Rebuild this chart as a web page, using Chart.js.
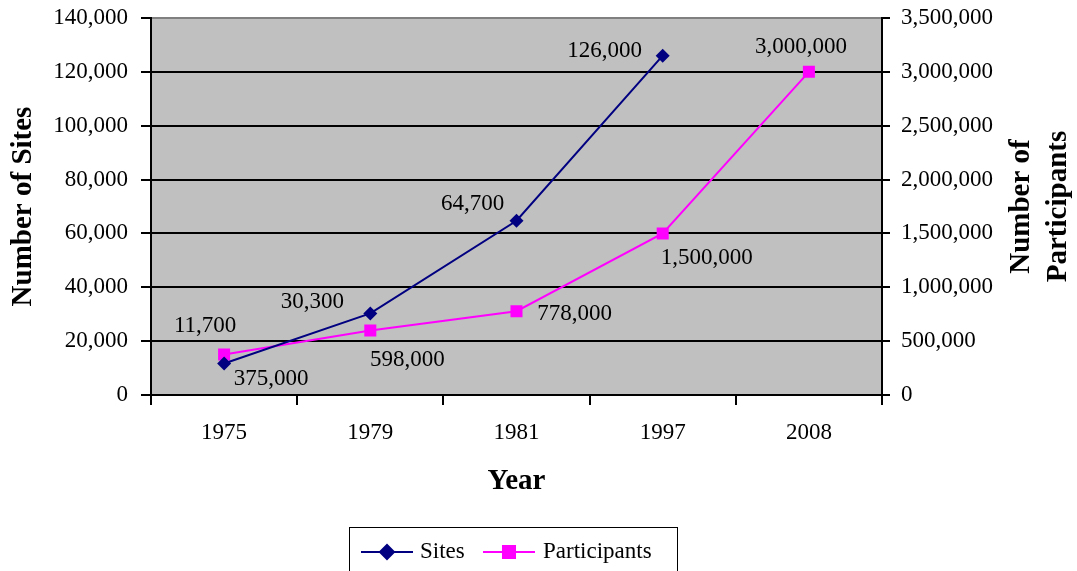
<!DOCTYPE html>
<html>
<head>
<meta charset="utf-8">
<script src="https://cdn.jsdelivr.net/npm/chart.js@4"></script>
<style>
  body { margin: 0; background: #fff; }
  #wrap { width: 1077px; height: 571px; }
</style>
</head>
<body>
<div id="wrap"><canvas id="chart" width="1077" height="571"></canvas></div>
<script>
// chart data
const years = ['1975', '1979', '1981', '1997', '2008'];
const sites = [11700, 30300, 64700, 126000, null];
const participants = [375000, 598000, 778000, 1500000, 3000000];

// label offsets from each point (px), just styling
const sitesLabelOffset = [[-19, -38], [-58, -11], [-44, -17], [-58, -5], [0, 0]];
const partLabelOffset = [[47, 24], [37, 29], [58, 3], [44, 25], [-8, -25]];

const FONT = 'Liberation Serif, Times New Roman, serif';
const fmt = v => Number(v).toLocaleString('en-US');

// grey plot background + border
const plotBg = {
    id: 'plotBg',
    beforeDraw(chart) {
        const { ctx, chartArea: a } = chart;
        ctx.save();
        ctx.fillStyle = '#C0C0C0';
        ctx.fillRect(a.left, a.top, a.right - a.left, a.bottom - a.top);
        ctx.strokeStyle = '#808080';
        ctx.lineWidth = 2;
        ctx.strokeRect(a.left, a.top, a.right - a.left, a.bottom - a.top);
        ctx.restore();
    }
};

// value labels, right axis title and the boxed legend
const extras = {
    id: 'extras',
    afterDatasetsDraw(chart) {
        const ctx = chart.ctx;
        ctx.save();
        ctx.font = '23px ' + FONT;
        ctx.fillStyle = '#000';
        ctx.textAlign = 'center';
        ctx.textBaseline = 'middle';
        [[0, sitesLabelOffset], [1, partLabelOffset]].forEach(([di, offs]) => {
            const ds = chart.data.datasets[di];
            chart.getDatasetMeta(di).data.forEach((pt, i) => {
                if (ds.data[i] == null) return;
                ctx.fillText(fmt(ds.data[i]), pt.x + offs[i][0], pt.y + offs[i][1]);
            });
        });
        ctx.restore();
    },
    afterDraw(chart) {
        const ctx = chart.ctx;
        const a = chart.chartArea;
        ctx.save();
        // right axis title (two lines, reading bottom to top)
        ctx.font = 'bold 29px ' + FONT;
        ctx.fillStyle = '#000';
        ctx.textAlign = 'center';
        ctx.textBaseline = 'middle';
        const cy = (a.top + a.bottom) / 2;
        [['Number of', 1022], ['Participants', 1059]].forEach(([t, x]) => {
            ctx.save();
            ctx.translate(x, cy);
            ctx.rotate(-Math.PI / 2);
            ctx.fillText(t, 0, 0);
            ctx.restore();
        });

        // legend
        ctx.strokeStyle = '#000';
        ctx.lineWidth = 1;
        ctx.strokeRect(349.5, 527.5, 328, 60);
        const ly = 552;
        const items = [
            { ds: chart.data.datasets[0], x: 361, tx: 420 },
            { ds: chart.data.datasets[1], x: 483, tx: 543 }
        ];
        items.forEach(it => {
            ctx.strokeStyle = it.ds.borderColor;
            ctx.lineWidth = 2;
            ctx.beginPath();
            ctx.moveTo(it.x, ly);
            ctx.lineTo(it.x + 52, ly);
            ctx.stroke();
            Chart.helpers.drawPoint(ctx, {
                pointStyle: it.ds.pointStyle,
                radius: it.ds.pointRadius,
                borderWidth: 1
            }, it.x + 26, ly);
            ctx.fillStyle = it.ds.backgroundColor;
            ctx.fill();
            ctx.fillStyle = '#000';
            ctx.font = '23px ' + FONT;
            ctx.textAlign = 'left';
            ctx.fillText(it.ds.label, it.tx, ly);
        });
        ctx.restore();
    }
};

// fixed box sizes so the plot lands where the original is
const fixWidth = w => scale => {
    scale.width = w;
    scale.paddingTop = 0;
    scale.paddingBottom = 0;
};

new Chart(document.getElementById('chart'), {
    type: 'line',
    data: {
        labels: years,
        datasets: [
            {
                label: 'Sites',
                data: sites,
                yAxisID: 'y',
                borderColor: '#000080',
                backgroundColor: '#000080',
                borderWidth: 2,
                pointStyle: 'rectRot',
                pointRadius: 7,
                pointBorderWidth: 0,
                tension: 0
            },
            {
                label: 'Participants',
                data: participants,
                yAxisID: 'y1',
                borderColor: '#FF00FF',
                backgroundColor: '#FF00FF',
                borderWidth: 2,
                pointStyle: 'rect',
                pointRadius: 8.5,
                pointBorderWidth: 0,
                tension: 0
            }
        ]
    },
    options: {
        responsive: false,
        animation: false,
        devicePixelRatio: 1,
        layout: { padding: { top: 18, left: 0, right: 0, bottom: 0 } },
        plugins: {
            legend: { display: false },
            tooltip: { enabled: false }
        },
        scales: {
            x: {
                offset: true,
                grid: {
                    offset: true,
                    drawOnChartArea: false,
                    tickLength: 10,
                    tickColor: '#000',
                    lineWidth: 2
                },
                border: { color: '#000', width: 2 },
                ticks: {
                    color: '#000',
                    font: { family: FONT, size: 23 },
                    padding: 14,
                    maxRotation: 0
                },
                title: {
                    display: true,
                    text: 'Year',
                    color: '#000',
                    font: { family: FONT, size: 29, weight: 'bold' },
                    padding: { top: 0, bottom: 72 }
                },
                afterFit(scale) {
                    scale.height = 176;
                    scale.paddingLeft = 0;
                    scale.paddingRight = 0;
                }
            },
            y: {
                position: 'left',
                min: 0,
                max: 140000,
                ticks: {
                    stepSize: 20000,
                    color: '#000',
                    font: { family: FONT, size: 23 },
                    padding: 13,
                    callback: v => fmt(v)
                },
                grid: {
                    color: ctx => ctx.tick && ctx.tick.value === 140000 ? '#808080' : '#000',
                    tickColor: '#000',
                    lineWidth: 2,
                    tickLength: 10
                },
                border: { color: '#000', width: 2 },
                title: {
                    display: true,
                    text: 'Number of Sites',
                    color: '#000',
                    font: { family: FONT, size: 29, weight: 'bold' },
                    padding: { top: 6, bottom: 0 }
                },
                afterFit: fixWidth(151)
            },
            y1: {
                position: 'right',
                min: 0,
                max: 3500000,
                ticks: {
                    stepSize: 500000,
                    color: '#000',
                    font: { family: FONT, size: 23 },
                    padding: 11,
                    callback: v => fmt(v)
                },
                grid: {
                    drawOnChartArea: false,
                    tickColor: '#000',
                    lineWidth: 2,
                    tickLength: 8
                },
                border: { color: '#000', width: 2 },
                afterFit: fixWidth(195)
            }
        }
    },
    plugins: [plotBg, extras]
});
</script>
</body>
</html>
